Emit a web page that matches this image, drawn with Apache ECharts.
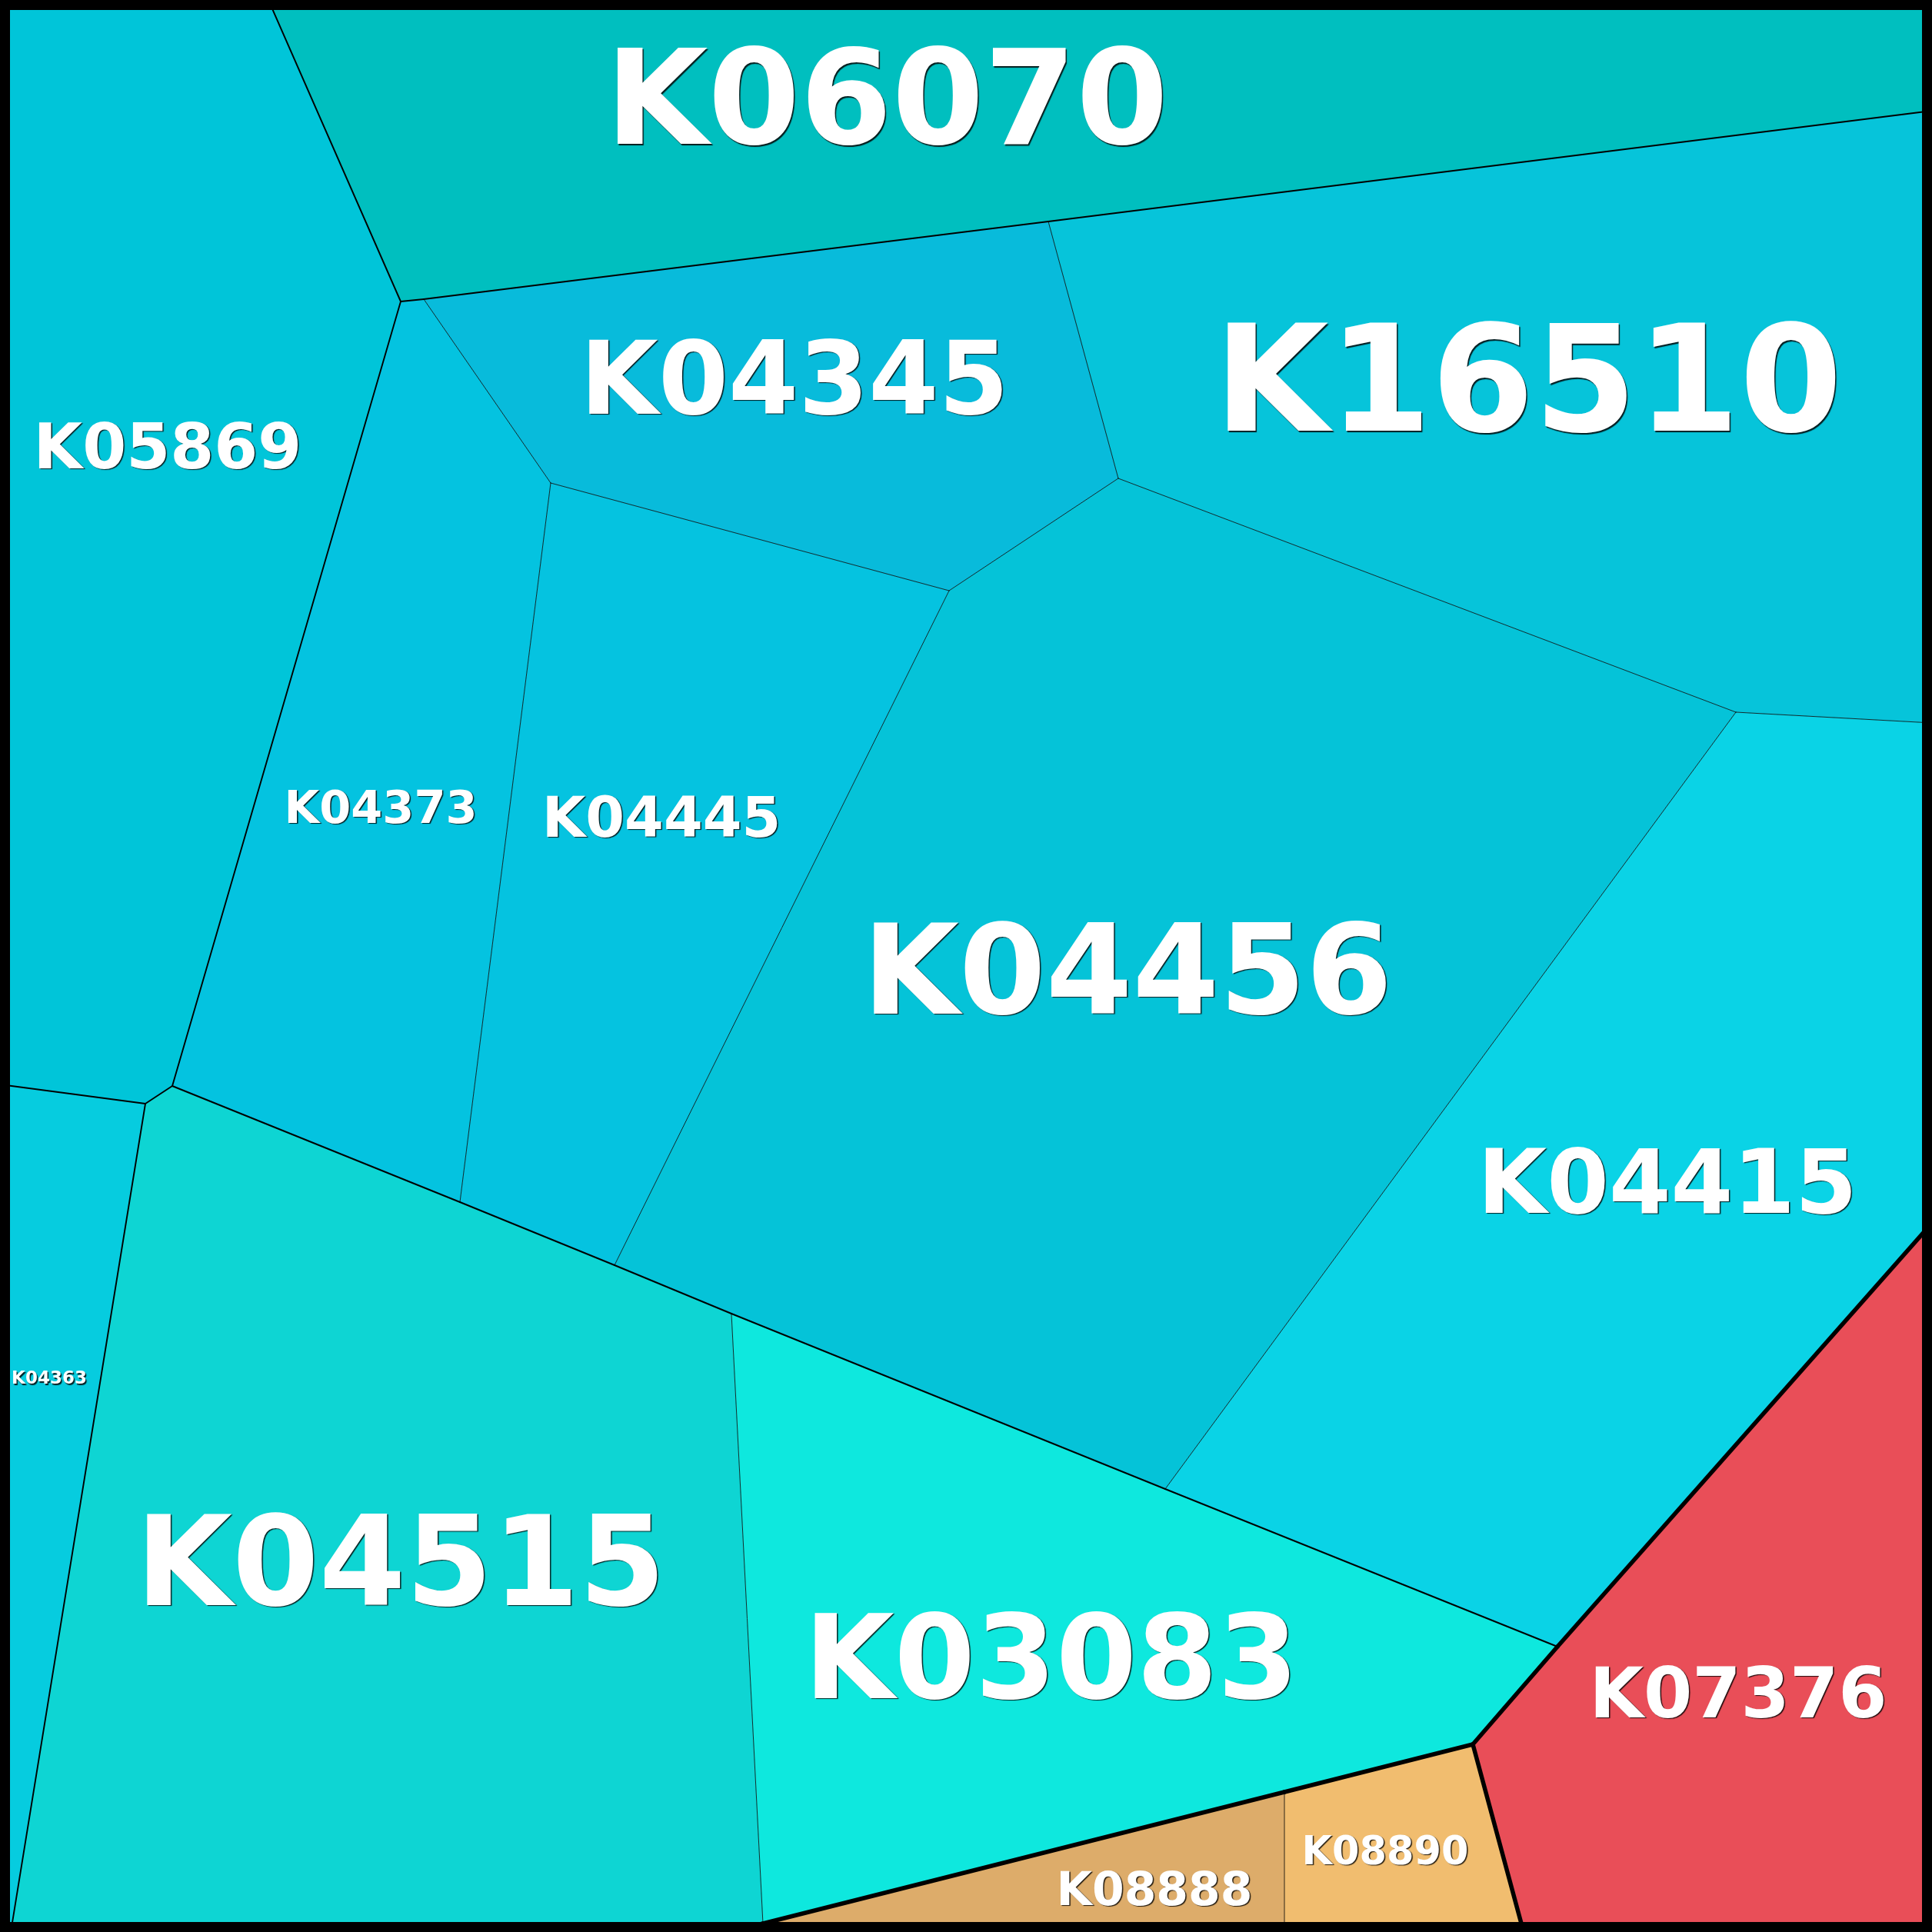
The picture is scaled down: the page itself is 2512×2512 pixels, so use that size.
<!DOCTYPE html>
<html><head><meta charset="utf-8">
<script src="https://cdn.jsdelivr.net/npm/echarts@6/dist/echarts.min.js"></script>
<style>html,body{margin:0;padding:0;background:#fff}#c{width:2512px;height:2512px}</style>
</head><body><div id="c"></div>
<script>
// ---- data: Voronoi treemap cells (vertices, in a 0..2512 space, y down)
const vertexIds = ['TL','A','TR','E','B','C','D','F','G','H','I','J','K','L','M','N','BL','O','P','Q','R','S','T','BR','U','V','VB','X','X2','Y'];
const vertexX   = [0, 349, 2512, 2512, 521, 551, 1363, 1454, 1234, 716, 2257, 2512, 224, 189, 0, 14, 0, 598, 799, 951, 1515, 2025, 2512, 2512, 1915, 1670, 1670, 992, 949, 1981];
const vertexY   = [0, 0, 0, 144, 392, 389, 288, 622, 768, 628, 926, 940, 1412, 1435, 1410, 2512, 2512, 1563, 1645, 1708, 1936, 2141, 1590, 2512, 2268, 2330, 2512, 2501, 2512, 2512];

const cellNames = ['K06070','K05869','K04345','K16510','K04373','K04445','K04456','K04415','K04363','K04515','K03083','K07376','K08890','K08888'];
const cellPaths = ['A/a','A/e','A/b','A/b','A/b','A/b','A/b','A/b','A/d','A/c','A/c','R/r','O/o','O/o'];
const cellPolygons = [
  'A TR E D C B',
  'TL A B K L M',
  'C D F G H',
  'D E J I F',
  'B C H O K',
  'H G P O',
  'G F I R Q P',
  'I J T S R',
  'M L N BL',
  'L K O P Q X X2 N',
  'Q R S U V X',
  'S T BR Y U',
  'U Y VB V',
  'V VB X2 X'
];
const siteX = [1153, 218, 1033, 1987, 495, 860, 1466, 2168, 64, 521, 1367, 2260, 1801, 1501];
const siteY = [127, 580, 492, 493, 1049, 1062, 1261, 1536, 1791, 2030, 2155, 2201, 2406, 2456];

// ---- styles
const cellColor = {
  K06070:'#00BFBF', K05869:'#00C5D9', K04345:'#08BBDB', K16510:'#06C4DA',
  K04373:'#04C3E0', K04445:'#05C3E0', K04456:'#05C3D8', K04415:'#0AD3E6',
  K04363:'#06CCDF', K04515:'#0ED5D3', K03083:'#0EE8DE', K07376:'#E94E58',
  K08890:'#F1BD6F', K08888:'#DDAC6A'
};
const labelSize = {
  K06070:172, K16510:192, K04456:162, K04515:162, K03083:151, K04345:131,
  K04415:116, K07376:91, K05869:82, K04445:73, K04373:59, K08890:51, K08888:60, K04363:23
};
const borderWidthByDepth = [5.5, 1.9, 0.8];

const vIndex = {};
vertexIds.forEach((id, i) => vIndex[id] = i);
const polys = cellPolygons.map(s => s.split(' ').map(id => vIndex[id]));

// edges between cells, width from depth of common ancestor
const edgeMap = {};
polys.forEach((p, ci) => {
  for (let k = 0; k < p.length; k++) {
    const a = p[k], b = p[(k + 1) % p.length];
    const key = a < b ? a + '|' + b : b + '|' + a;
    if (!edgeMap[key]) edgeMap[key] = { a, b, cells: [] };
    edgeMap[key].cells.push(ci);
  }
});
const edges = Object.values(edgeMap).map(e => {
  let depth = 0;
  if (e.cells.length === 2) {
    const pa = cellPaths[e.cells[0]].split('/'), pb = cellPaths[e.cells[1]].split('/');
    while (depth < pa.length && pa[depth] === pb[depth]) depth++;
  }
  return [e.a, e.b, depth];
});

const chart = echarts.init(document.getElementById('c'), null, { renderer: 'canvas' });
chart.setOption({
  animation: false,
  backgroundColor: '#ffffff',
  grid: { left: 0, right: 0, top: 0, bottom: 0 },
  xAxis: { type: 'value', min: 0, max: 2512, show: false },
  yAxis: { type: 'value', min: 0, max: 2512, inverse: true, show: false },
  series: [
    {
      type: 'custom', coordinateSystem: 'cartesian2d', clip: false, z: 1,
      data: cellNames.map((n, i) => [i, 0]),
      renderItem: (params, api) => {
        const ci = api.value(0);
        const pts = polys[ci].map(v => api.coord([vertexX[v], vertexY[v]]));
        return { type: 'polygon', shape: { points: pts }, style: { fill: cellColor[cellNames[ci]], stroke: null } };
      }
    },
    {
      type: 'custom', coordinateSystem: 'cartesian2d', clip: false, z: 2,
      data: edges.map((e, i) => [i, 0]),
      renderItem: (params, api) => {
        const e = edges[api.value(0)];
        const p1 = api.coord([vertexX[e[0]], vertexY[e[0]]]);
        const p2 = api.coord([vertexX[e[1]], vertexY[e[1]]]);
        return { type: 'line', shape: { x1: p1[0], y1: p1[1], x2: p2[0], y2: p2[1] },
          style: { stroke: '#000', lineWidth: borderWidthByDepth[e[2]], lineCap: 'round' } };
      }
    },
    {
      type: 'custom', coordinateSystem: 'cartesian2d', clip: false, z: 3,
      data: cellNames.map((n, i) => [siteX[i], siteY[i], i]),
      renderItem: (params, api) => {
        const ci = api.value(2);
        const p = api.coord([api.value(0), api.value(1)]);
        const name = cellNames[ci];
        const fs = labelSize[name];
        return { type: 'text', x: p[0], y: p[1] + fs * 0.09, style: {
          text: name, fill: '#ffffff', fontFamily: 'DejaVu Sans', fontWeight: 'bold',
          fontSize: fs, align: 'center', verticalAlign: 'middle',
          textShadowColor: 'rgba(0,0,0,0.85)', textShadowOffsetX: 1.5, textShadowOffsetY: 1.5, textShadowBlur: 1
        } };
      }
    }
  ],
  graphic: [{
    type: 'rect', z: 100, silent: true,
    shape: { x: 0, y: 0, width: 2512, height: 2512 },
    style: { fill: 'none', stroke: '#000', lineWidth: 26 }
  }]
});
</script></body></html>
